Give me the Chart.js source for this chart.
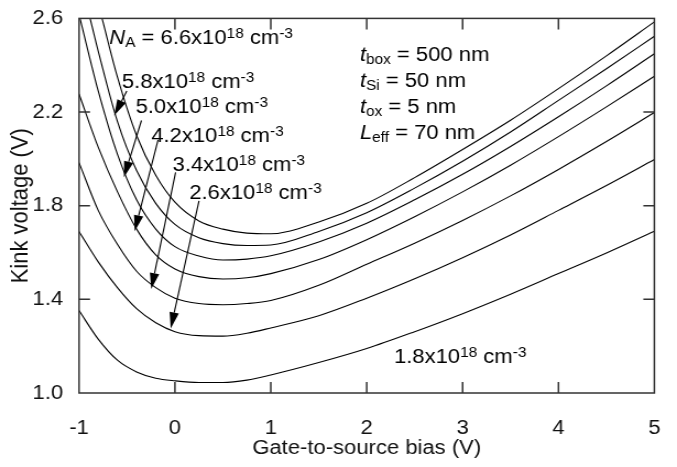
<!DOCTYPE html>
<html>
<head>
<meta charset="utf-8">
<script src="https://cdn.jsdelivr.net/npm/chart.js@4.4.1/dist/chart.umd.min.js"></script>
<style>
  html, body { margin: 0; padding: 0; background: #fff; }
</style>
</head>
<body>
<!-- the original figure is a little wider than its fonts: draw narrower, then stretch -->
<canvas id="kinkChart" width="615" height="467" style="display:block;width:677px;height:467px"></canvas>
<script>
// Kink voltage vs gate-to-source bias, one curve per doping level N_A (x10^18 cm^-3)
const na66X = [-0.76, -0.6, -0.4, -0.2, 0, 0.25, 0.5, 0.75, 1, 1.5, 2, 2.5, 3, 3.5, 4, 4.5, 5];
const na66Y = [2.6, 2.35, 2.10, 1.93, 1.815, 1.735, 1.70, 1.683, 1.68, 1.73, 1.81, 1.92, 2.04, 2.165, 2.30, 2.44, 2.585];

const na58X = [-0.885, -0.8, -0.6, -0.4, -0.2, 0, 0.25, 0.5, 0.75, 1, 1.5, 2, 2.5, 3, 3.5, 4, 4.5, 5];
const na58Y = [2.6, 2.46, 2.16, 1.95, 1.81, 1.72, 1.663, 1.638, 1.63, 1.632, 1.69, 1.77, 1.875, 1.99, 2.115, 2.25, 2.385, 2.524];

const na50X = [-0.99, -0.8, -0.6, -0.4, -0.2, 0, 0.25, 0.5, 0.75, 1, 1.5, 2, 2.5, 3, 3.5, 4, 4.5, 5];
const na50Y = [2.6, 2.29, 2.02, 1.825, 1.70, 1.625, 1.585, 1.568, 1.572, 1.586, 1.645, 1.725, 1.825, 1.934, 2.053, 2.18, 2.312, 2.449];

// the lower four curves all start at the left edge
const biasX = [-1, -0.8, -0.6, -0.4, -0.2, 0, 0.25, 0.5, 0.75, 1, 1.5, 2, 2.5, 3, 3.5, 4, 4.5, 5];
const na42Y = [2.277, 2.05, 1.86, 1.70, 1.59, 1.53, 1.497, 1.487, 1.492, 1.51, 1.57, 1.655, 1.753, 1.859, 1.973, 2.095, 2.222, 2.353];
const na34Y = [1.984, 1.78, 1.635, 1.52, 1.45, 1.405, 1.382, 1.377, 1.382, 1.395, 1.46, 1.55, 1.64, 1.737, 1.842, 1.955, 2.074, 2.198];
const na26Y = [1.69, 1.56, 1.45, 1.36, 1.30, 1.262, 1.245, 1.243, 1.255, 1.278, 1.33, 1.405, 1.488, 1.578, 1.675, 1.78, 1.886, 1.997];
const na18Y = [1.352, 1.23, 1.14, 1.09, 1.063, 1.052, 1.045, 1.045, 1.055, 1.077, 1.13, 1.19, 1.262, 1.339, 1.422, 1.51, 1.598, 1.691];

// doping labels with arrows (text anchor and arrow tail/tip in data units)
const arrowLabels = ['5.8', '5.0', '4.2', '3.4', '2.6'];
const labelX = [-0.553, -0.410, -0.247, -0.024, 0.149];
const labelY = [2.303, 2.194, 2.072, 1.947, 1.829];
const tailX = [-0.502, -0.349, -0.176, 0.007, 0.251];
const tailY = [2.290, 2.164, 2.081, 1.942, 1.821];
const tipX = [-0.634, -0.532, -0.420, -0.247, -0.044];
const tipY = [2.185, 1.921, 1.691, 1.444, 1.276];

// device parameters box
const paramNames = ['t', 't', 't', 'L'];
const paramSubs = ['box', 'Si', 'ox', 'eff'];
const paramValues = [' = 500 nm', ' = 50 nm', ' = 5 nm', ' = 70 nm'];

const FONT = '"Liberation Sans", Arial, sans-serif';

function toPoints(xs, ys) {
    return xs.map((x, i) => ({ x: x, y: ys[i] }));
}

function curve(xs, ys) {
    return {
        data: toPoints(xs, ys),
        borderColor: '#000',
        borderWidth: 1.1,
        pointRadius: 0,
        showLine: true,
        cubicInterpolationMode: 'monotone',
        fill: false,
    };
}

// draws text made of normal / sub / superscript pieces
function drawRuns(ctx, x, y, runs) {
    ctx.textAlign = 'left';
    ctx.textBaseline = 'alphabetic';
    runs.forEach(r => {
        const small = r.sub || r.sup;
        ctx.font = (r.it ? 'italic ' : '') + (small ? 14 : 20) + 'px ' + FONT;
        const dy = r.sup ? -6 : (r.sub ? 3 : 0);
        ctx.fillText(r.t, x, y + dy);
        x += ctx.measureText(r.t).width;
    });
}

function dopingRuns(value) {
    return [{ t: value + 'x10' }, { t: '18', sup: true }, { t: ' cm' }, { t: '-3', sup: true }];
}

function arrow(ctx, x0, y0, x1, y1) {
    const ang = Math.atan2(y1 - y0, x1 - x0);
    const len = 16, half = 4.3;
    const bx = x1 - len * Math.cos(ang), by = y1 - len * Math.sin(ang);
    ctx.beginPath();
    ctx.moveTo(x0, y0);
    ctx.lineTo(bx, by);
    ctx.stroke();
    ctx.beginPath();
    ctx.moveTo(x1, y1);
    ctx.lineTo(bx + half * Math.sin(ang), by - half * Math.cos(ang));
    ctx.lineTo(bx - half * Math.sin(ang), by + half * Math.cos(ang));
    ctx.closePath();
    ctx.fill();
}

const framePlugin = {
    id: 'frame',
    afterDatasetsDraw(chart) {
        const { ctx, chartArea: a, scales: { x, y } } = chart;
        ctx.save();
        ctx.strokeStyle = '#333';
        ctx.lineWidth = 1.5;
        ctx.strokeRect(a.left, a.top, a.right - a.left, a.bottom - a.top);
        ctx.beginPath();
        x.ticks.forEach(t => {
            const px = x.getPixelForValue(t.value);
            if (px < a.left + 2 || px > a.right - 2) return;
            ctx.moveTo(px, a.bottom); ctx.lineTo(px, a.bottom - 11);
            ctx.moveTo(px, a.top); ctx.lineTo(px, a.top + 11);
        });
        y.ticks.forEach(t => {
            const py = y.getPixelForValue(t.value);
            if (py < a.top + 2 || py > a.bottom - 2) return;
            ctx.moveTo(a.left, py); ctx.lineTo(a.left + 10, py);
            ctx.moveTo(a.right, py); ctx.lineTo(a.right - 10, py);
        });
        ctx.stroke();
        ctx.restore();
    }
};

const notesPlugin = {
    id: 'notes',
    afterDraw(chart) {
        const { ctx, scales: { x, y } } = chart;
        ctx.save();
        ctx.fillStyle = '#000';
        ctx.strokeStyle = '#000';
        ctx.lineWidth = 1.1;

        drawRuns(ctx, x.getPixelForValue(-0.685), y.getPixelForValue(2.491),
            [{ t: 'N', it: true }, { t: 'A', sub: true }, { t: ' = 6.6x10' }, { t: '18', sup: true }, { t: ' cm' }, { t: '-3', sup: true }]);

        arrowLabels.forEach((v, i) => {
            drawRuns(ctx, x.getPixelForValue(labelX[i]), y.getPixelForValue(labelY[i]), dopingRuns(v));
            arrow(ctx, x.getPixelForValue(tailX[i]), y.getPixelForValue(tailY[i]),
                x.getPixelForValue(tipX[i]), y.getPixelForValue(tipY[i]));
        });

        drawRuns(ctx, x.getPixelForValue(2.285), y.getPixelForValue(1.130), dopingRuns('1.8'));

        const px = x.getPixelForValue(1.929);
        const py = y.getPixelForValue(2.416);
        paramNames.forEach((n, i) => {
            drawRuns(ctx, px, py + i * 25.7, [{ t: n, it: true }, { t: paramSubs[i], sub: true }, { t: paramValues[i] }]);
        });
        ctx.restore();
    }
};

const ctx = document.getElementById('kinkChart').getContext('2d');
new Chart(ctx, {
    type: 'scatter',
    data: {
        datasets: [
            curve(na66X, na66Y),
            curve(na58X, na58Y),
            curve(na50X, na50Y),
            curve(biasX, na42Y),
            curve(biasX, na34Y),
            curve(biasX, na26Y),
            curve(biasX, na18Y),
        ],
    },
    options: {
        responsive: false,
        animation: false,
        devicePixelRatio: 1,
        layout: { padding: { left: 0, right: 7.3, top: 11, bottom: 0 } },
        plugins: { legend: { display: false }, tooltip: { enabled: false } },
        scales: {
            x: {
                type: 'linear',
                min: -1,
                max: 5,
                afterFit: s => { s.height = 74; },
                ticks: { stepSize: 1, color: '#111', padding: 15, font: { family: FONT, size: 20 } },
                grid: { display: false },
                border: { display: false },
                title: { display: true, text: 'Gate-to-source bias (V)', color: '#111', padding: { top: 0, bottom: 7 }, font: { family: FONT, size: 20 } },
            },
            y: {
                type: 'linear',
                min: 1.0,
                max: 2.6,
                afterFit: s => { s.width = 71.8; },
                ticks: { stepSize: 0.4, color: '#111', padding: 6.4, font: { family: FONT, size: 20 }, callback: v => v.toFixed(1) },
                grid: { display: false },
                border: { display: false },
                title: { display: true, text: 'Kink voltage (V)', color: '#111', padding: { top: 6, bottom: 0 }, font: { family: FONT, size: 22 } },
            },
        },
    },
    plugins: [framePlugin, notesPlugin],
});
</script>
</body>
</html>
